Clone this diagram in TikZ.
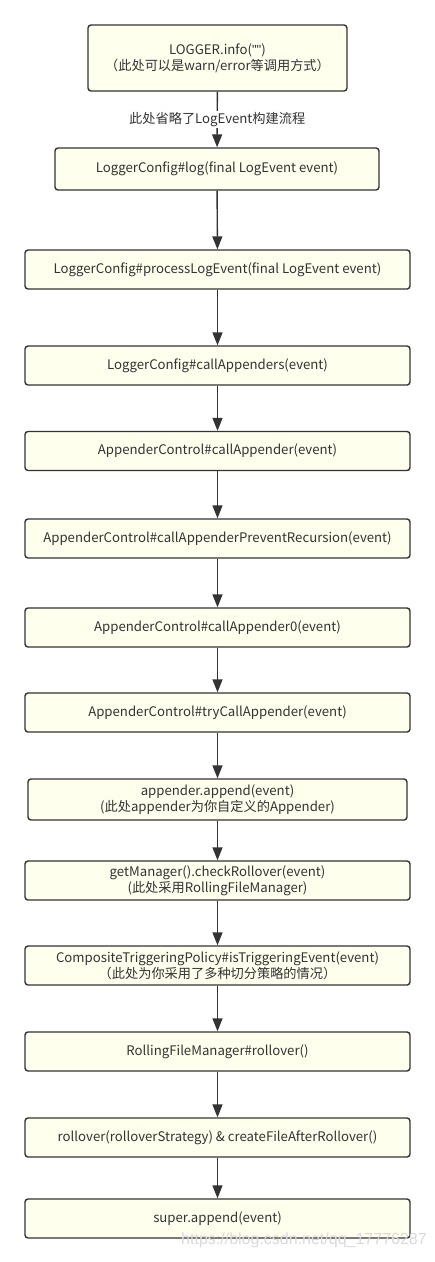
\documentclass[tikz,border=0pt]{standalone}
\usepackage{fontspec}
\setmainfont{Noto Sans CJK SC}
\newfontfamily\wmfont{Liberation Sans}
\usetikzlibrary{arrows.meta}
\definecolor{boxfill}{HTML}{FFFFEE}
\definecolor{boxline}{HTML}{333333}
\definecolor{txt}{HTML}{333333}
\definecolor{wm}{HTML}{D9D9D9}
\newcommand{\sq}{{\wmfont\symbol{"22}}}
\begin{document}
\begin{tikzpicture}[x=1pt,y=-1pt,
  flowbox/.style={draw=boxline,fill=boxfill,line width=1.4pt,rounded corners=3pt,
    text=txt,align=center,inner sep=0pt,font=\fontsize{13.2}{16}\selectfont,
    minimum width=385pt,minimum height=39pt},
  flowarrow/.style={draw=boxline,line width=1.4pt,-{Triangle[length=13pt,width=10pt]}},
  lbl/.style={fill=white,text=txt,inner sep=1pt,font=\fontsize{13.2}{16}\selectfont}]
\useasboundingbox (0,0) rectangle (435,1262);
\node[flowbox,minimum width=259pt,minimum height=66pt] (n1) at (217.5,58) {LOGGER.info(\sq\sq)\\（此处可以是warn/error等调用方式）};
\node[flowbox,minimum width=324pt,minimum height=42pt] (n2) at (217,169) {LoggerConfig\#log(final LogEvent event)};
\node[flowbox] (n3) at (217.5,269.5) {LoggerConfig\#processLogEvent(final LogEvent event)};
\node[flowbox] (n4) at (217.5,365.5) {LoggerConfig\#callAppenders(event)};
\node[flowbox] (n5) at (217.5,451) {AppenderControl\#callAppender(event)};
\node[flowbox] (n6) at (217.5,538.5) {AppenderControl\#callAppenderPreventRecursion(event)};
\node[flowbox] (n7) at (217.5,627.5) {AppenderControl\#callAppender0(event)};
\node[flowbox] (n8) at (217.5,712.5) {AppenderControl\#tryCallAppender(event)};
\node[flowbox,minimum width=379pt,minimum height=41pt] (n9) at (217.5,799.5) {appender.append(event)\\(此处appender为你自定义的Appender)};
\node[flowbox] (n10) at (217.5,880.5) {getManager().checkRollover(event)\\(此处采用RollingFileManager)};
\node[flowbox] (n11) at (217.5,965.5) {CompositeTriggeringPolicy\#isTriggeringEvent(event)\\（此处为你采用了多种切分策略的情况）};
\node[flowbox] (n12) at (217.5,1051.5) {RollingFileManager\#rollover()};
\node[flowbox] (n13) at (217.5,1137.5) {rollover(rolloverStrategy) \& createFileAfterRollover()};
\node[flowbox] (n14) at (217.5,1218.5) {super.append(event)};
\draw[flowarrow] (n1) -- node[lbl] {此处省略了LogEvent构建流程} (n2);
\draw[flowarrow] (n2) -- (n3);
\draw[flowarrow] (n3) -- (n4);
\draw[flowarrow] (n4) -- (n5);
\draw[flowarrow] (n5) -- (n6);
\draw[flowarrow] (n6) -- (n7);
\draw[flowarrow] (n7) -- (n8);
\draw[flowarrow] (n8) -- (n9);
\draw[flowarrow] (n9) -- (n10);
\draw[flowarrow] (n10) -- (n11);
\draw[flowarrow] (n11) -- (n12);
\draw[flowarrow] (n12) -- (n13);
\draw[flowarrow] (n13) -- (n14);
\node[text=wm,font=\wmfont\fontsize{16}{18}\selectfont,inner sep=0pt] (wmk) at (304,1240) {https://blog.csdn.net/qq\_17776287};
\end{tikzpicture}
\end{document}
